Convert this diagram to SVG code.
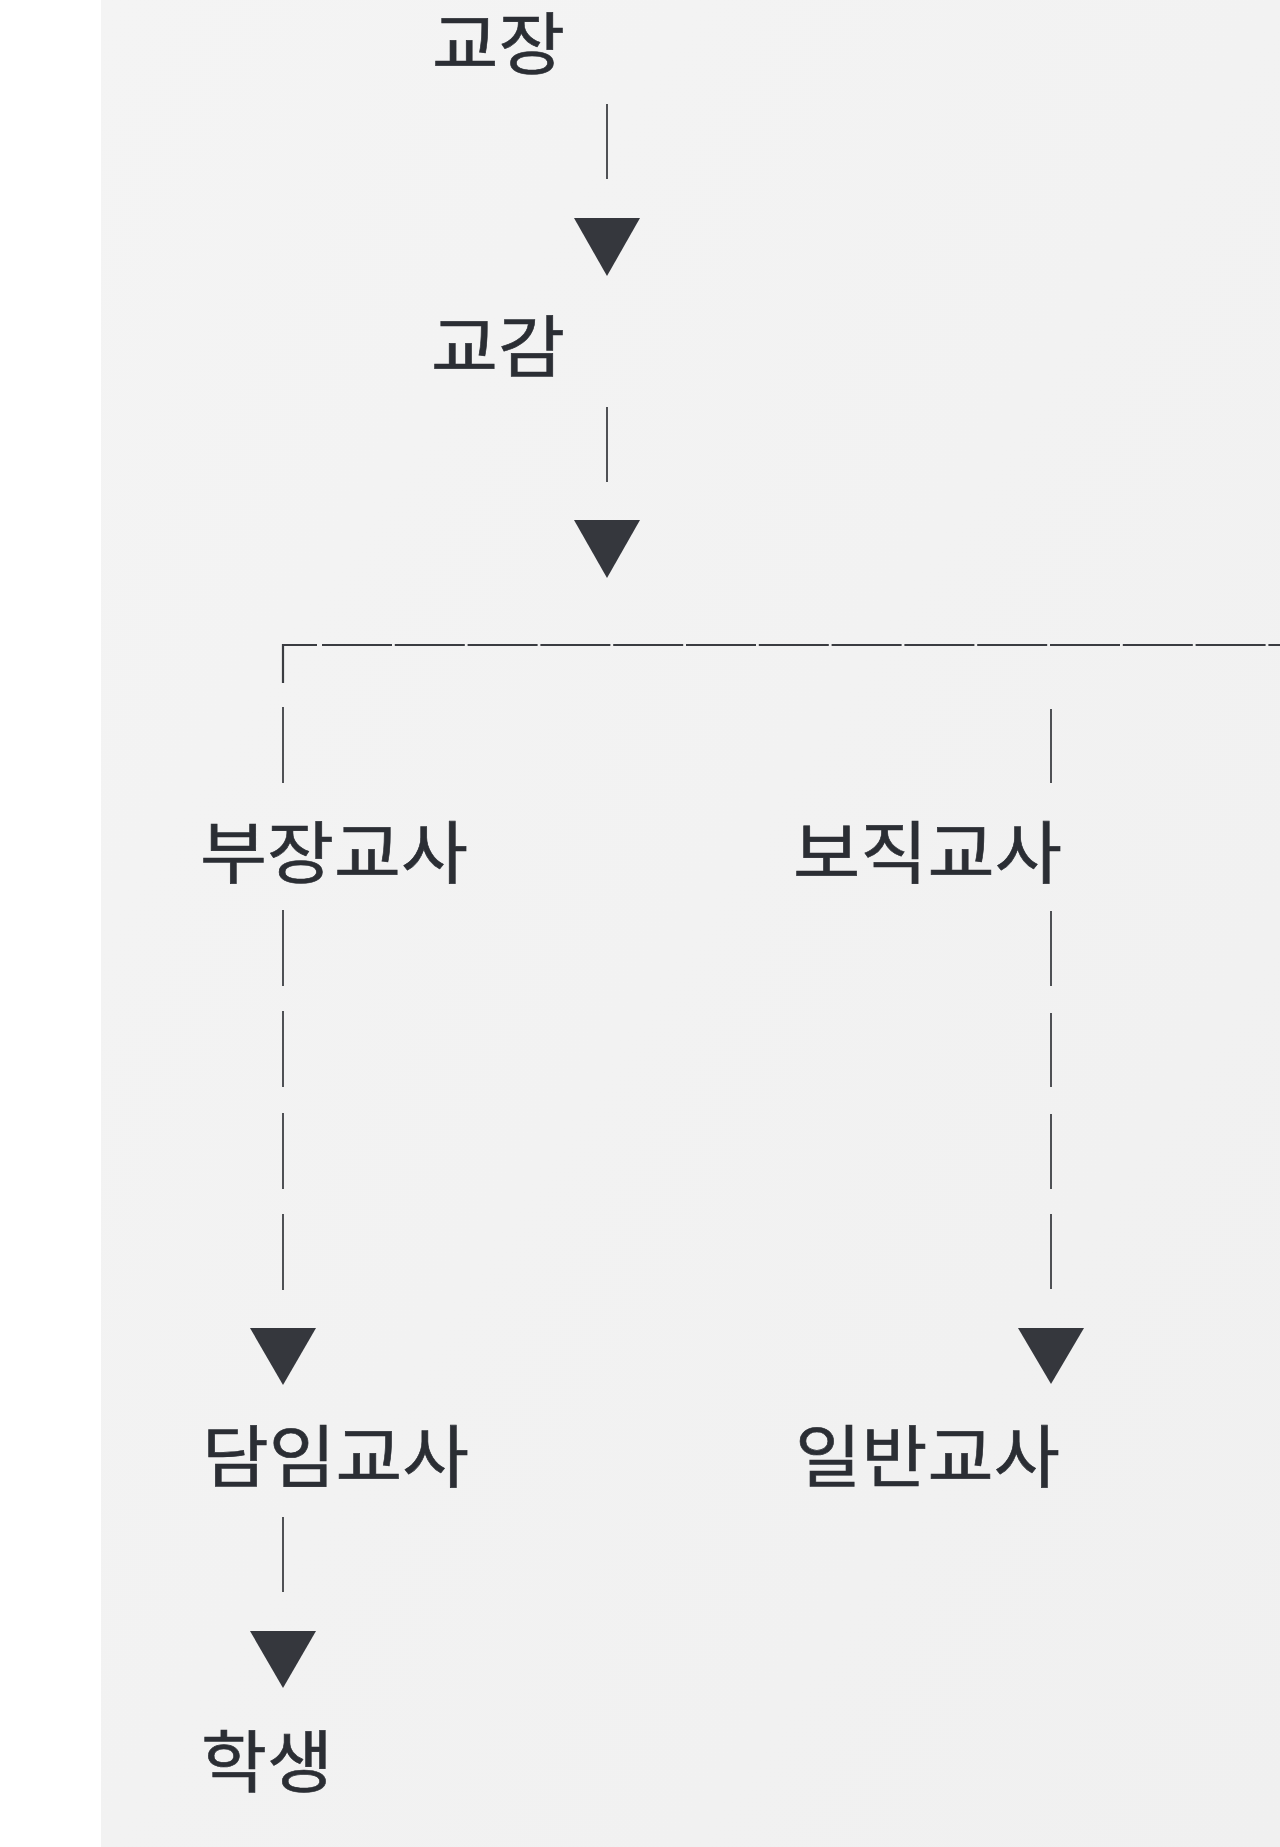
<svg xmlns="http://www.w3.org/2000/svg" width="1280" height="1847" viewBox="0 0 1280 1847">
  <defs>
    <linearGradient id="bg" x1="0" y1="0" x2="1" y2="1">
      <stop offset="0" stop-color="#f4f4f4"/>
      <stop offset="1" stop-color="#f0f0f0"/>
    </linearGradient>
  </defs>
  <style>
    .lbl { font-family: "Noto Sans CJK KR", "Noto Sans", sans-serif; font-size: 68px; fill: #2b2e34; stroke: #2b2e34; stroke-width: 0.6; }
    .ln { stroke: #26282d; stroke-width: 1.6; fill: none; }
    .hl { stroke: #3a3c41; stroke-width: 2.2; fill: none; }
    .tri { fill: #35373d; }
  </style>
  <rect x="0" y="0" width="1280" height="1847" fill="#ffffff"/>
  <rect x="101" y="0" width="1179" height="1847" fill="url(#bg)"/>

  <g id="connectors">
    <!-- 교장 -> 교감 -->
    <path class="ln" d="M607 104 V179"/>
    <polygon class="tri" points="574,218 640,218 607,276"/>
    <!-- 교감 -> branch -->
    <path class="ln" d="M607 407 V482"/>
    <polygon class="tri" points="574,520 640,520 607,578"/>
    <!-- horizontal branch line -->
    <path class="hl" d="M317 645 H283 V683"/>
    <line class="hl" x1="322" y1="645" x2="1290" y2="645" stroke-dasharray="70 2.8"/>
    <!-- left column -->
    <path class="ln" d="M283 707 V783"/>
    <path class="ln" d="M283 910 V986 M283 1011 V1087 M283 1113 V1189 M283 1214 V1290"/>
    <polygon class="tri" points="250,1328 316,1328 283,1385"/>
    <!-- 담임교사 -> 학생 -->
    <path class="ln" d="M283 1517 V1592"/>
    <polygon class="tri" points="250,1631 316,1631 283,1688"/>
    <!-- right column -->
    <path class="ln" d="M1051 709 V783"/>
    <path class="ln" d="M1051 911 V986 M1051 1013 V1087 M1051 1114 V1189 M1051 1214 V1289"/>
    <polygon class="tri" points="1018,1328 1084,1328 1051,1384"/>
  </g>

  <g id="node-principal"><text class="lbl" x="432" y="69" textLength="133" lengthAdjust="spacingAndGlyphs">교장</text></g>
  <g id="node-vice-principal"><text class="lbl" x="431" y="372" textLength="134" lengthAdjust="spacingAndGlyphs">교감</text></g>
  <g id="node-head-teacher"><text class="lbl" x="200" y="878" textLength="268" lengthAdjust="spacingAndGlyphs">부장교사</text></g>
  <g id="node-assignment-teacher"><text class="lbl" x="793" y="878" textLength="269" lengthAdjust="spacingAndGlyphs">보직교사</text></g>
  <g id="node-homeroom-teacher"><text class="lbl" x="202" y="1482" textLength="267" lengthAdjust="spacingAndGlyphs">담임교사</text></g>
  <g id="node-general-teacher"><text class="lbl" x="795" y="1482" textLength="265" lengthAdjust="spacingAndGlyphs">일반교사</text></g>
  <g id="node-student"><text class="lbl" x="201" y="1787" textLength="132" lengthAdjust="spacingAndGlyphs">학생</text></g>
</svg>
